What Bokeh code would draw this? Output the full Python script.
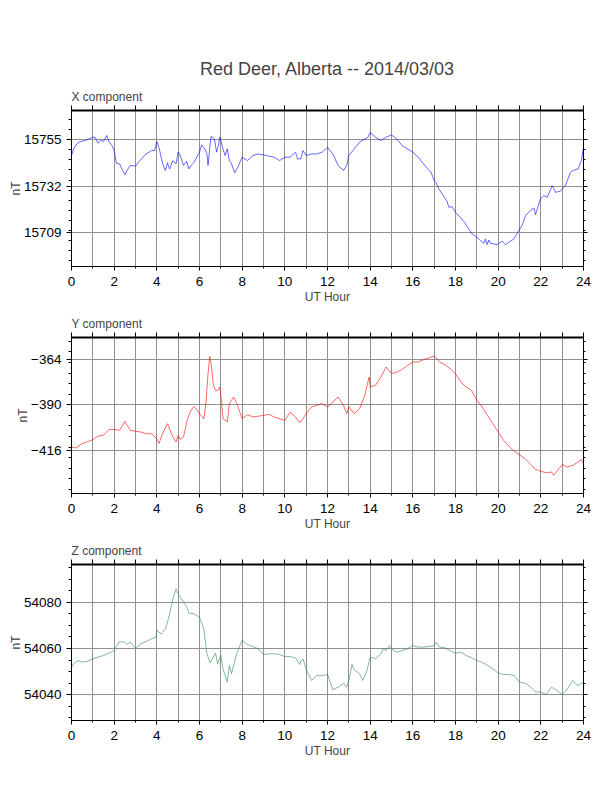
from bokeh.plotting import figure
from bokeh.layouts import column
from bokeh.models import Range1d, LinearAxis, FixedTicker, Title
from bokeh.embed import file_html
from bokeh.resources import INLINE

FONT = "Liberation Sans"

main_title = "Red Deer, Alberta -- 2014/03/03"
hour_labels = list(range(0, 25, 2))

# X component (nT)
x_hours = [0, 0.1, 0.25, 0.4, 0.5, 0.75, 1.0, 1.1, 1.25, 1.4, 1.5, 1.65, 1.75, 1.9, 2.0, 2.1, 2.25, 2.4, 2.5, 2.6,
           2.75, 3.0, 3.2, 3.5, 3.75, 3.9, 4.0, 4.1, 4.2, 4.3, 4.4, 4.5, 4.6, 4.75, 4.9, 5.0, 5.1, 5.25, 5.4, 5.5,
           5.6, 5.75, 6.0, 6.1, 6.25, 6.35, 6.4, 6.5, 6.55, 6.7, 6.8, 6.9, 6.95, 7.0, 7.1, 7.2, 7.3, 7.4, 7.5, 7.65,
           7.8, 8.0, 8.25, 8.5, 8.75, 9.0, 9.5, 9.75, 10.0, 10.25, 10.5, 10.6, 10.75, 10.85, 11.0, 11.25, 11.5, 11.75, 12.0, 12.25,
           12.5, 12.75, 12.9, 13.0, 13.25, 13.5, 13.75, 13.9, 14.0, 14.25, 14.5, 14.75, 15.0, 15.25, 15.5, 16.0, 16.25, 16.5, 16.75, 16.85,
           17.0, 17.1, 17.22, 17.35, 17.53, 17.6, 17.69, 17.84, 18.0, 18.23, 18.47, 18.62, 18.78, 19.02, 19.17, 19.33, 19.4, 19.48, 19.56, 19.64,
           19.95, 20.19, 20.34, 20.5, 20.73, 20.97, 21.12, 21.28, 21.52, 21.67, 21.75, 21.98, 22.14, 22.3, 22.53, 22.69, 22.92, 23.16, 23.39, 23.5,
           23.75, 23.9, 24.0]
x_values = [15747.1, 15750.4, 15752.9, 15754.0, 15754.2, 15755.0, 15756.2, 15756.2, 15753.2, 15754.8, 15754.0, 15757.0, 15754.0, 15752.0, 15749.6, 15743.3, 15743.0, 15739.7, 15737.6, 15739.7,
            15742.2, 15741.9, 15744.6, 15747.9, 15749.6, 15749.6, 15754.0, 15751.2, 15746.3, 15742.2, 15739.7, 15743.5, 15740.5, 15744.6, 15743.0, 15748.8, 15747.1, 15742.2, 15744.2, 15740.5,
            15742.2, 15743.8, 15748.8, 15752.4, 15750.4, 15747.9, 15742.2, 15752.9, 15756.6, 15755.3, 15748.8, 15752.9, 15756.2, 15754.5, 15750.4, 15747.1, 15750.4, 15744.6, 15743.0, 15738.6,
            15741.4, 15746.3, 15744.6, 15747.1, 15747.9, 15747.4, 15746.3, 15744.6, 15746.3, 15746.3, 15748.8, 15745.5, 15745.5, 15749.6, 15747.1, 15747.9, 15747.9, 15748.8, 15751.2, 15747.9,
            15742.2, 15739.7, 15742.2, 15747.1, 15750.4, 15753.7, 15755.3, 15756.2, 15758.6, 15756.2, 15754.5, 15756.2, 15757.3, 15755.3, 15752.0, 15748.8, 15746.3, 15743.0, 15739.7, 15739.0,
            15734.7, 15733.5, 15730.6, 15728.5, 15725.6, 15724.5, 15721.5, 15721.8, 15719.0, 15716.5, 15713.3, 15710.8, 15708.3, 15706.6, 15705.0, 15703.7, 15705.8, 15703.0, 15705.3, 15703.7,
            15703.0, 15704.7, 15703.0, 15704.2, 15705.8, 15710.0, 15712.4, 15717.4, 15719.9, 15721.2, 15717.9, 15725.6, 15727.3, 15726.4, 15732.2, 15728.9, 15729.5, 15732.5, 15738.8, 15739.7,
            15740.5, 15744.6, 15751.2]

# Y component (nT)
y_hours = [0, 0.2, 0.5, 1.0, 1.25, 1.5, 1.75, 2.0, 2.25, 2.5, 2.75, 3.0, 3.25, 3.5, 3.75, 4.0, 4.1, 4.3, 4.5, 4.75,
           4.9, 5.0, 5.1, 5.25, 5.4, 5.5, 5.6, 5.75, 6.0, 6.2, 6.3, 6.4, 6.48, 6.55, 6.65, 6.75, 6.85, 6.95, 7.0, 7.1,
           7.2, 7.3, 7.4, 7.6, 7.75, 8.0, 8.25, 8.5, 9.0, 9.25, 9.5, 9.75, 10.0, 10.25, 10.5, 10.65, 10.75, 11.0, 11.25, 11.5,
           11.75, 12.0, 12.25, 12.5, 12.75, 12.9, 13.0, 13.25, 13.5, 13.75, 13.95, 14.0, 14.25, 14.5, 14.75, 15.0, 15.25, 15.5, 15.75, 16.0,
           16.25, 16.5, 16.75, 17.0, 17.25, 17.5, 17.75, 18.0, 18.25, 18.5, 18.75, 19.0, 19.25, 19.5, 19.75, 20.0, 20.25, 20.5, 20.75, 21.0,
           21.25, 21.5, 21.75, 22.0, 22.25, 22.5, 22.6, 22.75, 23.0, 23.25, 23.5, 23.75, 23.9, 24.0]
y_values = [-413.9, -414.5, -412.0, -409.8, -407.7, -407.3, -404.1, -403.9, -404.5, -399.4, -404.5, -405.0, -405.4, -406.4, -406.4, -409.2, -412.0, -405.4, -400.7, -408.3,
            -411.1, -407.3, -409.6, -408.3, -399.7, -396.0, -393.1, -390.9, -395.0, -397.9, -389.3, -372.3, -362.5, -366.6, -378.9, -381.8, -381.8, -379.9, -384.6, -397.9,
            -398.8, -399.7, -389.3, -385.6, -389.3, -397.9, -395.6, -396.9, -396.0, -395.4, -396.9, -397.9, -398.8, -394.1, -396.9, -399.7, -399.7, -395.0, -391.2, -390.3,
            -389.3, -391.2, -388.4, -385.6, -390.3, -395.0, -391.2, -395.0, -392.2, -384.6, -374.2, -379.9, -378.9, -374.2, -368.5, -372.3, -371.4, -369.9, -367.6, -365.7,
            -365.7, -364.4, -363.4, -362.3, -365.7, -367.2, -369.5, -372.3, -377.0, -379.9, -381.8, -387.4, -391.2, -396.0, -400.7, -405.4, -410.1, -413.4, -416.4, -418.3,
            -420.5, -423.4, -426.6, -427.7, -428.5, -428.1, -430.0, -427.7, -423.9, -425.3, -424.3, -422.4, -421.1, -423.4]

# Z component (nT)
z_hours = [0, 0.1, 0.3, 0.5, 0.75, 1.0, 1.25, 1.5, 1.75, 2.0, 2.1, 2.25, 2.5, 2.6, 2.75, 3.0, 3.25, 3.5, 3.75, 3.95,
           4.0, 4.2, 4.4, 4.5, 4.6, 4.75, 4.9, 5.0, 5.25, 5.4, 5.5, 5.75, 6.0, 6.2, 6.35, 6.5, 6.75, 6.85, 7.0, 7.1,
           7.3, 7.4, 7.5, 7.75, 8.0, 8.25, 8.5, 8.75, 9.0, 9.25, 9.5, 9.75, 10.0, 10.25, 10.5, 10.7, 10.75, 10.85, 11.0, 11.25,
           11.5, 11.75, 12.0, 12.25, 12.5, 12.75, 12.9, 13.0, 13.15, 13.25, 13.5, 13.65, 13.85, 14.0, 14.25, 14.5, 14.6, 14.75, 14.9, 15.0,
           15.25, 15.5, 15.75, 16.0, 16.25, 16.5, 16.75, 17.0, 17.1, 17.25, 17.5, 17.75, 18.0, 18.25, 18.5, 18.75, 19.0, 19.25, 19.5, 19.75,
           20.0, 20.25, 20.5, 20.75, 21.0, 21.25, 21.5, 21.75, 22.0, 22.25, 22.5, 22.75, 23.0, 23.25, 23.5, 23.6, 23.75, 24.0]
z_values = [54051.9, 54053.4, 54054.8, 54054.1, 54054.5, 54055.5, 54056.3, 54057.0, 54058.0, 54059.1, 54060.9, 54063.0, 54062.7, 54061.7, 54062.7, 54060.1, 54062.0, 54063.0, 54064.2, 54064.9,
            54067.8, 54066.3, 54068.5, 54071.4, 54075.0, 54081.4, 54085.8, 54083.6, 54080.0, 54078.1, 54075.3, 54075.0, 54073.5, 54068.5, 54057.7, 54053.8, 54058.0, 54053.4, 54057.0, 54051.2,
            54045.5, 54052.7, 54049.1, 54058.0, 54063.7, 54061.7, 54060.9, 54059.9, 54057.4, 54057.7, 54057.7, 54057.4, 54056.5, 54056.5, 54056.0, 54053.1, 54054.5, 54055.5, 54051.2, 54046.2,
            54048.3, 54048.3, 54048.8, 54042.2, 54043.3, 54045.0, 54043.3, 54046.2, 54053.1, 54050.8, 54049.1, 54046.2, 54050.5, 54056.3, 54055.5, 54057.7, 54059.9, 54059.1, 54061.3, 54059.9,
            54058.4, 54059.1, 54059.9, 54061.3, 54060.6, 54060.6, 54060.9, 54061.3, 54062.7, 54060.6, 54060.3, 54059.1, 54058.0, 54058.4, 54057.0, 54056.0, 54054.8, 54054.1, 54052.7, 54051.2,
            54049.4, 54048.8, 54048.8, 54048.3, 54045.5, 54045.0, 54043.6, 54041.2, 54041.2, 54040.1, 54043.3, 54041.9, 54040.1, 54042.6, 54046.2, 54045.0, 54044.0, 54045.5]

x_ticks = [15709, 15732, 15755]
y_ticks = [-416, -390, -364]
z_ticks = [54040, 54060, 54080]

panels = [
    dict(name="X component", hours=x_hours, vals=x_values, color="#0000ff",
         yr=(15692.2, 15769.4), ticks=x_ticks, minor=list(range(15695, 15770, 5)),
         height=310, top=110, bottom=44),
    dict(name="Y component", hours=y_hours, vals=y_values, color="#ff0000",
         yr=(-440.3, -351.8), ticks=y_ticks, minor=list(range(-438, -350, 6)),
         height=230, top=27, bottom=47),
    dict(name="Z component", hours=z_hours, vals=z_values, color="#2e8b57",
         yr=(54028.9, 54096.3), ticks=z_ticks, minor=list(range(54030, 54100, 5)),
         height=240, top=24, bottom=60),
]


def panel_title(text):
    return Title(text=text, align="left", text_font=FONT, text_font_size="12px",
                 text_font_style="normal", standoff=3)


figs = []
for i, pd_ in enumerate(panels):
    p = figure(width=604, height=pd_["height"], x_range=Range1d(0, 24), y_range=Range1d(*pd_["yr"]),
               output_backend="svg", toolbar_location=None,
               min_border_left=71, min_border_right=21,
               min_border_top=pd_["top"], min_border_bottom=pd_["bottom"])
    p.outline_line_color = "black"
    p.outline_line_width = 1

    p.line(pd_["hours"], pd_["vals"], line_color=pd_["color"], line_width=0.6)

    xa = p.xaxis[0]
    xa.ticker = FixedTicker(ticks=hour_labels, minor_ticks=list(range(1, 24, 2)))
    xa.axis_label = "UT Hour"
    ya = p.yaxis[0]
    ya.ticker = FixedTicker(ticks=pd_["ticks"], minor_ticks=pd_["minor"])
    ya.axis_label = "nT"
    for ax in (xa, ya):
        ax.axis_label_text_font = FONT
        ax.axis_label_text_font_size = "12px"
        ax.axis_label_text_font_style = "normal"
        ax.major_label_text_font = FONT
        ax.major_label_text_font_size = "13.5px"
        ax.major_label_text_color = "black"
        ax.axis_line_color = "black"
        ax.major_tick_line_color = "black"
        ax.minor_tick_line_color = "black"
        ax.major_tick_in = 0
        ax.minor_tick_in = 0
        ax.major_tick_out = 4
        ax.minor_tick_out = 2
    ya.major_tick_out = 5
    ya.minor_tick_out = 3
    xa.major_label_standoff = 6
    xa.axis_label_standoff = 1
    ya.major_label_standoff = 5
    ya.axis_label_standoff = -2

    # top frame axis: hourly ticks, no labels
    top_ticks = list(range(25))
    ta = LinearAxis(ticker=FixedTicker(ticks=top_ticks, minor_ticks=[]),
                    major_label_overrides={t: "" for t in top_ticks}, major_label_standoff=0,
                    major_tick_in=0, major_tick_out=5, axis_line_width=2,
                    axis_line_color="black")
    p.add_layout(ta, "above")
    # right frame axis: ticks, no labels
    ra = LinearAxis(ticker=FixedTicker(ticks=pd_["ticks"], minor_ticks=pd_["minor"]),
                    major_label_overrides={t: "" for t in pd_["ticks"]}, major_label_standoff=0,
                    major_tick_in=0, major_tick_out=4, minor_tick_in=0, minor_tick_out=2,
                    axis_line_color="black")
    p.add_layout(ra, "right")

    p.xgrid.ticker = FixedTicker(ticks=top_ticks)
    p.xgrid.grid_line_color = "#909090"
    p.ygrid.grid_line_color = "#909090"

    if i == 0:
        p.add_layout(panel_title(pd_["name"]), "above")
        p.title.text = main_title
        p.title.align = "center"
        p.title.text_font = FONT
        p.title.text_font_size = "18px"
        p.title.text_font_style = "normal"
        p.title.standoff = 16
    else:
        p.title.text = pd_["name"]
        p.title.align = "left"
        p.title.text_font = FONT
        p.title.text_font_size = "12px"
        p.title.text_font_style = "normal"
        p.title.standoff = 3
    figs.append(p)

layout = column(*figs, spacing=0)
open("out.html", "w").write(file_html(layout, INLINE))
